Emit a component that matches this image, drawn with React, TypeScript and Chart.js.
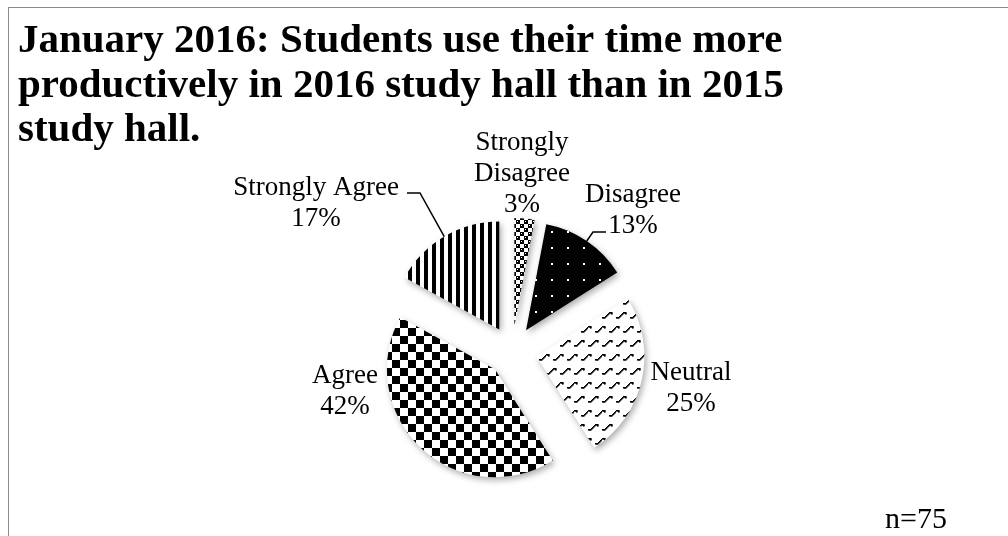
import React, { useEffect, useRef } from 'react';
import { Chart, registerables } from 'chart.js';

Chart.register(...registerables);

// ---------- data ----------
const categories = ['Strongly Disagree', 'Disagree', 'Neutral', 'Agree', 'Strongly Agree'];
const percentValues = [3, 13, 25, 42, 17];
const labelLines = [['Strongly', 'Disagree'], ['Disagree'], ['Neutral'], ['Agree'], ['Strongly Agree']];
const titleLines = [
  'January 2016: Students use their time more',
  'productively in 2016 study hall than in 2015',
  'study hall.',
];
const sampleNote = 'n=75';

// ---------- layout / style ----------
const EXPLODE = 25;
const PIE_RADIUS = 108;
const LABEL_FONT = '27px "Liberation Serif"';
const LABEL_LINE_H = 31;
// label centre x / first baseline, relative to pie centre
const LABEL_POS: number[][] = [
  [10, -201],
  [121, -149],
  [179, 29],
  [-167, 32],
  [-196, -156],
];
const LEADERS: Record<number, { elbow: number[]; tail: number[] }> = {
  1: { elbow: [81, -119], tail: [94, -119] },
  4: { elbow: [-92, -158], tail: [-105, -158] },
};

function tile(w: number, h: number, draw: (c: CanvasRenderingContext2D) => void): CanvasPattern | string {
  const cv = document.createElement('canvas');
  cv.width = w;
  cv.height = h;
  const c = cv.getContext('2d');
  if (!c) return '#000';
  draw(c);
  return c.createPattern(cv, 'repeat') || '#000';
}

function makePatterns() {
  const sd = tile(8, 8, (c) => {
    c.fillStyle = '#fff';
    c.fillRect(0, 0, 8, 8);
    c.fillStyle = '#000';
    c.fillRect(0, 0, 4, 4);
    c.fillRect(4, 4, 4, 4);
    c.fillStyle = '#fff';
    c.fillRect(1, 1, 1, 1);
    c.fillRect(5, 5, 1, 1);
  });
  const dis = tile(16, 16, (c) => {
    c.fillStyle = '#000';
    c.fillRect(0, 0, 16, 16);
    c.fillStyle = '#fff';
    c.fillRect(7, 7, 2, 2);
  });
  // shingle-like motif, staggered rows
  const neu = tile(14, 28, (c) => {
    c.fillStyle = '#fff';
    c.fillRect(0, 0, 14, 28);
    c.fillStyle = '#000';
    const px = (x: number, y: number) => c.fillRect(((x % 14) + 14) % 14, ((y % 28) + 28) % 28, 1.6, 1.6);
    const motif = (ox: number, oy: number) => {
      for (let k = 0; k < 3; k++) px(ox + k, oy + 9);
      px(ox + 3, oy + 8);
      px(ox + 4, oy + 7);
      px(ox + 5, oy + 6);
      px(ox + 6, oy + 5);
      for (let k = 7; k < 10; k++) px(ox + k, oy + 4);
      px(ox + 9, oy + 5);
    };
    motif(0, 0);
    motif(7, 14);
  });
  const agr = tile(16, 16, (c) => {
    c.fillStyle = '#fff';
    c.fillRect(0, 0, 16, 16);
    c.fillStyle = '#000';
    c.fillRect(0, 0, 8, 8);
    c.fillRect(8, 8, 8, 8);
  });
  const sa = tile(8, 8, (c) => {
    c.fillStyle = '#fff';
    c.fillRect(0, 0, 8, 8);
    c.fillStyle = '#000';
    c.fillRect(0, 0, 4, 8);
  });
  return [sd, dis, neu, agr, sa];
}

const explodePlugin = {
  id: 'explodeSlices',
  afterDatasetUpdate(chart: any, args: any) {
    const meta = chart.getDatasetMeta(args.index);
    meta.data.forEach((arc: any) => {
      const mid = (arc.startAngle + arc.endAngle) / 2;
      arc.x += Math.cos(mid) * EXPLODE;
      arc.y += Math.sin(mid) * EXPLODE;
    });
  },
};

const shadowPlugin = {
  id: 'sliceShadow',
  beforeDatasetsDraw(chart: any) {
    const c = chart.ctx;
    c.save();
    c.shadowColor = 'rgba(0,0,0,0.32)';
    c.shadowBlur = 6;
    c.shadowOffsetX = 2;
    c.shadowOffsetY = 3;
  },
  afterDatasetsDraw(chart: any) {
    chart.ctx.restore();
  },
};

const labelPlugin = {
  id: 'sliceLabels',
  afterDraw(chart: any) {
    const { ctx, chartArea } = chart;
    const cx = (chartArea.left + chartArea.right) / 2;
    const cy = (chartArea.top + chartArea.bottom) / 2;
    const meta = chart.getDatasetMeta(0);
    ctx.save();
    ctx.font = LABEL_FONT;
    ctx.fillStyle = '#000';
    ctx.textAlign = 'center';
    ctx.textBaseline = 'alphabetic';
    meta.data.forEach((arc: any, i: number) => {
      const lines = [...labelLines[i], `${percentValues[i]}%`];
      const [dx, dy] = LABEL_POS[i];
      lines.forEach((t, k) => ctx.fillText(t, cx + dx, cy + dy + k * LABEL_LINE_H));
      const leader = LEADERS[i];
      if (leader) {
        const mid = (arc.startAngle + arc.endAngle) / 2;
        const px = arc.x + Math.cos(mid) * arc.outerRadius;
        const py = arc.y + Math.sin(mid) * arc.outerRadius;
        ctx.beginPath();
        ctx.strokeStyle = '#000';
        ctx.lineWidth = 1.5;
        ctx.moveTo(cx + leader.tail[0], cy + leader.tail[1]);
        ctx.lineTo(cx + leader.elbow[0], cy + leader.elbow[1]);
        ctx.lineTo(px, py);
        ctx.stroke();
      }
    });
    ctx.font = '30px "Liberation Serif"';
    ctx.fillText(sampleNote, 916, 528);
    ctx.restore();
  },
};

export default function App() {
  const ref = useRef<HTMLCanvasElement>(null);
  useEffect(() => {
    if (!ref.current) return;
    const chart = new Chart(ref.current, {
      type: 'pie',
      data: {
        labels: categories,
        datasets: [
          {
            data: percentValues,
            backgroundColor: makePatterns() as any,
            borderWidth: 0,
            clip: false as any,
          },
        ],
      },
      options: {
        responsive: false,
        animation: false,
        radius: PIE_RADIUS,
        layout: { padding: { left: 18, right: 2, top: 0, bottom: 0 } },
        plugins: {
          legend: { display: false },
          tooltip: { enabled: false },
          title: {
            display: true,
            text: titleLines,
            align: 'start',
            color: '#000',
            font: { family: '"Liberation Serif"', size: 41, weight: 'bold', lineHeight: 44.5 / 41 },
            padding: { top: 19.25, bottom: 13.25 },
          },
        },
      } as any,
      plugins: [explodePlugin, shadowPlugin, labelPlugin],
    });
    return () => chart.destroy();
  }, []);
  return (
    <div style={{ position: 'fixed', left: 0, top: 0, width: 1008, height: 536, background: '#fff' }}>
      <div
        style={{
          position: 'absolute',
          left: 8,
          top: 7,
          right: 0,
          bottom: 0,
          borderTop: '1px solid #8a8a8a',
          borderLeft: '1px solid #8a8a8a',
        }}
      />
      <canvas ref={ref} width={1008} height={536} style={{ position: 'absolute', left: 0, top: 0 }} />
    </div>
  );
}
